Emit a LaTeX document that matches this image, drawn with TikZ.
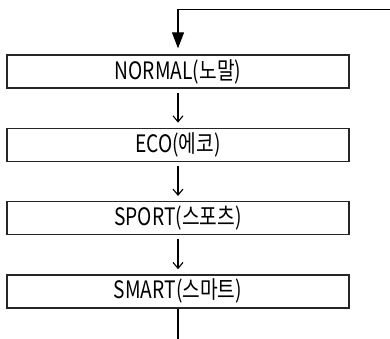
\documentclass[tikz,border=0pt]{standalone}
\usepackage{fontspec}
\newfontfamily\krfont[FakeStretch=0.8]{Noto Sans CJK KR}
\usetikzlibrary{positioning,arrows.meta}
\tikzset{
  modebox/.style={draw=black!85, line width=1.3pt, minimum width=342pt,
                  minimum height=33pt, inner sep=0pt,
                  font=\krfont\fontsize{24}{28}\selectfont},
  flow/.style={-{Straight Barb[length=6pt,width=10pt]}, line width=1.1pt,
               shorten <=4pt, shorten >=5pt},
  loopback/.style={-{Triangle[length=16pt,width=12pt]}, line width=1.1pt,
                   shorten >=6pt},
}

\begin{document}
\begin{tikzpicture}[x=1pt,y=1pt]
  \useasboundingbox (0,0) rectangle (390,-339);
  \node[modebox] (normal) at (178,-71.5) {NORMAL(노말)};
  \node[modebox, below=39pt of normal] (eco) {ECO(에코)};
  \node[modebox, below=39pt of eco] (sport) {SPORT(스포츠)};
  \node[modebox, below=39pt of sport] (smart) {SMART(스마트)};
  \coordinate (back) at (392,-9.3);
  \coordinate (out) at (178,-341);
  \draw[flow] (normal) -- (eco);
  \draw[flow] (eco) -- (sport);
  \draw[flow] (sport) -- (smart);
  \draw[line width=1.1pt] (smart) -- (out);
  \draw[loopback] (back) -| (normal);
\end{tikzpicture}
\end{document}
